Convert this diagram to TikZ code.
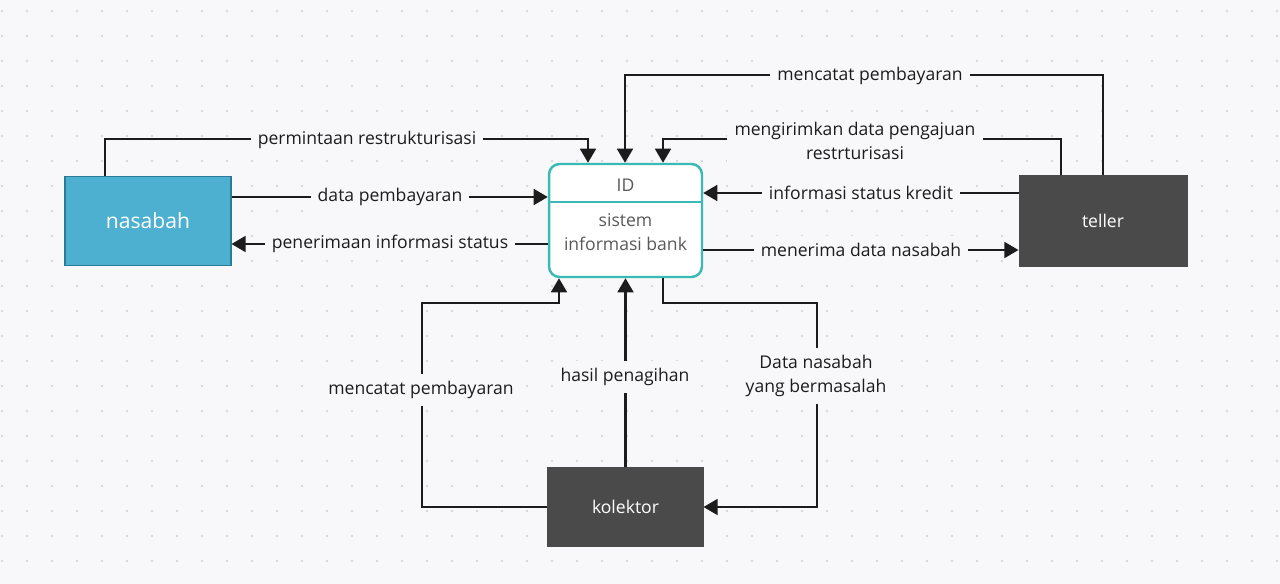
\documentclass[tikz,border=0pt]{standalone}
\usepackage{fontspec}
\setmainfont{Open Sans}
\usepackage{tikz}
\usetikzlibrary{arrows.meta, positioning}

\definecolor{canvas}{RGB}{248,248,250}
\definecolor{griddot}{RGB}{214,214,220}
\definecolor{nasabahblue}{RGB}{78,176,208}
\definecolor{nasabahedge}{RGB}{42,122,152}
\definecolor{procteal}{RGB}{58,186,182}
\definecolor{entitydark}{RGB}{74,74,74}
\definecolor{flowink}{RGB}{28,28,28}

\begin{document}
\begin{tikzpicture}[
    x=0.02cm, y=-0.02cm,
    >={Triangle[length=8pt, width=9pt]},
    entity/.style={
        rectangle, draw=#1, line width=0.6pt, fill=#1,
        minimum width=3.32cm, minimum height=1.78cm,
        text=white, font=\large
    },
    entity/.default={entitydark},
    process/.style={
        rectangle, rounded corners=6pt, draw=procteal, line width=1.4pt,
        fill=white, minimum width=3.06cm, minimum height=2.26cm
    },
    proctext/.style={
        font=\fontsize{10}{13.6}\selectfont, text=black!65, align=center, inner sep=0pt
    },
    flow/.style={
        ->, line width=1.3pt, flowink
    },
    lbl/.style={
        fill=canvas, font=\fontsize{10}{13.6}\selectfont, text=flowink, align=center,
        inner sep=4pt
    }
]

% ── Canvas and dot grid ──
\fill[canvas] (0,0) rectangle (1280,584);
\useasboundingbox (0,0) rectangle (1280,584);
\foreach \gx in {2,27,...,1280}
    \foreach \gy in {11,36,...,584}
        \fill[griddot] (\gx,\gy) circle (1.4);

% ── Process: sistem informasi bank ──
\node[process] (sys) at (625.5,220.5) {};
\draw[procteal, line width=1.4pt] (sys.west |- 0,202) -- (sys.east |- 0,202);
\node[proctext] (sysid) at (625.5,185) {ID};
\node[proctext] (sysname) at (625.5,232) {sistem\\informasi bank};

% ── External entities ──
\node[entity=nasabahblue, draw=nasabahedge] (nasabah) at (148,221) {nasabah};
\node[entity, minimum width=3.36cm, minimum height=1.8cm] (teller) at (1103,221) {\normalsize teller};
\node[entity, minimum width=3.1cm, minimum height=1.56cm] (kolektor) at (625.5,507) {\normalsize kolektor};

% ── Flows: nasabah <-> sistem ──
\draw[flow] (nasabah.north -| 105,0) |- (588,139) -- (sys.north -| 588,0);
\draw[flow] (nasabah.east |- 0,197) -- (sys.west |- 0,197);
\draw[flow] (sys.west |- 0,244) -- (nasabah.east |- 0,244);

% ── Flows: teller <-> sistem ──
\draw[flow] (teller.north -| 1103,0) |- (625,75) -- (sys.north -| 625,0);
\draw[flow] (teller.north -| 1061,0) |- (663,139) -- (sys.north -| 663,0);
\draw[flow] (teller.west |- 0,193) -- (sys.east |- 0,193);
\draw[flow] (sys.east |- 0,250) -- (teller.west |- 0,250);

% ── Flows: kolektor <-> sistem ──
\draw[flow] (kolektor.west) -| (422,303) -| (sys.south -| 559,0);
\draw[flow] (kolektor.north) -- (sys.south);
\draw[flow] (sys.south -| 663,0) |- (817,303) |- (kolektor.east);

% ── Flow labels ──
\node[lbl] (lpermintaan) at (367,140) {permintaan restrukturisasi};
\node[lbl] (ldatabayar) at (390,197) {data pembayaran};
\node[lbl] (lpenerimaan) at (390,244) {penerimaan informasi status};
\node[lbl] (lcatattop) at (870,76) {mencatat pembayaran};
\node[lbl] (lkirim) at (855,141) {mengirimkan data pengajuan\\restrturisasi};
\node[lbl] (linfokredit) at (861,193) {informasi status kredit};
\node[lbl] (lterima) at (861,250) {menerima data nasabah};
\node[lbl] (lcatatbot) at (421,390) {mencatat pembayaran};
\node[lbl] (lhasil) at (625,377) {hasil penagihan};
\node[lbl] (lmasalah) at (816,376) {Data nasabah\\yang bermasalah};

\end{tikzpicture}
\end{document}
